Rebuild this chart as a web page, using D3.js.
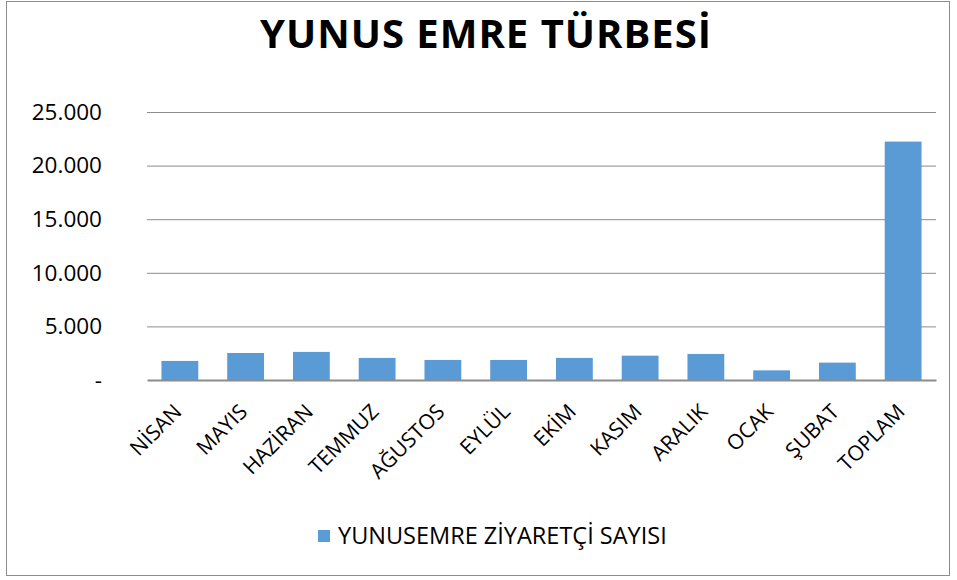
<!DOCTYPE html>
<html><head><meta charset="utf-8">
<script src="https://cdn.jsdelivr.net/npm/d3@7"></script>
<style>body{margin:0;background:#fff;} text{font-family:"Open Sans",sans-serif;}</style>
</head><body>
<svg id="c" width="957" height="580"></svg>
<script>
const categories = ["NİSAN","MAYIS","HAZİRAN","TEMMUZ","AĞUSTOS","EYLÜL","EKİM","KASIM","ARALIK","OCAK","ŞUBAT","TOPLAM"];
const values = [1780,2520,2620,2060,1870,1870,2060,2270,2430,900,1620,22240];
const yTicks = [0,5000,10000,15000,20000,25000];
const tickLabels = ["-","5.000","10.000","15.000","20.000","25.000"];
const title = "YUNUS EMRE TÜRBESİ";
const seriesName = "YUNUSEMRE ZİYARETÇİ SAYISI";

const svg = d3.select("#c");
svg.append("rect").attr("x",6.5).attr("y",1.5).attr("width",943).attr("height",574)
  .attr("fill","#fff").attr("stroke","#8c8c8c").attr("stroke-width",1);

const m = {l:147, r:936, t:112, b:380};
const x = d3.scaleBand().domain(categories).range([m.l,m.r]).paddingInner(0.44).paddingOuter(0.22);
const y = d3.scaleLinear().domain([0,25000]).range([m.b,m.t]);

svg.append("text").attr("x",486).attr("y",48).attr("text-anchor","middle")
  .attr("font-size",40).attr("letter-spacing",1).attr("font-weight","bold").attr("fill","#000").text(title);

const grid = svg.append("g").attr("transform",`translate(${m.l},0)`)
  .call(d3.axisLeft(y).tickValues(yTicks.slice(1)).tickSize(-(m.r-m.l)).tickFormat(""));
grid.selectAll("line").attr("stroke","#8c8c8c").attr("stroke-width",1);
grid.select(".domain").remove();

const ylab = svg.append("g").attr("transform",`translate(${m.l},0)`)
  .call(d3.axisLeft(y).tickValues(yTicks).tickSize(0).tickPadding(45).tickFormat((d,i)=>tickLabels[i]));
ylab.select(".domain").remove();
ylab.selectAll("text").attr("font-size",22.5).attr("fill","#000").attr("font-family","'Open Sans',sans-serif");

svg.selectAll("rect.bar").data(values).join("rect").attr("class","bar")
  .attr("x",(d,i)=>x(categories[i])).attr("width",x.bandwidth())
  .attr("y",d=>y(d)).attr("height",d=>y(0)-y(d)).attr("fill","#5b9bd5");

const xa = svg.append("g").attr("transform",`translate(0,${m.b})`)
  .call(d3.axisBottom(x).tickSize(0).tickFormat(d=>d));
xa.select(".domain").attr("stroke","#8c8c8c").attr("stroke-width",2);
xa.selectAll("text").attr("font-size",21).attr("fill","#000")
  .attr("font-family","'Open Sans',sans-serif")
  .attr("text-anchor","end").attr("dy",0).attr("y",0)
  .attr("transform","translate(3,33) rotate(-45)");

const lg = svg.append("g");
lg.append("rect").attr("x",318).attr("y",530).attr("width",12).attr("height",12).attr("fill","#5b9bd5");
lg.append("text").attr("x",338).attr("y",544).attr("font-size",23.5).attr("fill","#000").text(seriesName);
</script>
</body></html>
